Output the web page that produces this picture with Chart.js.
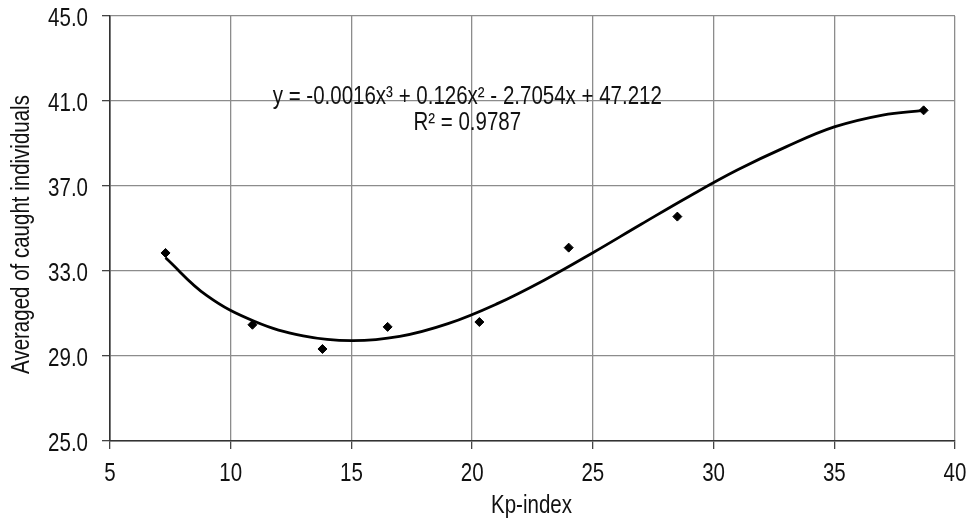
<!DOCTYPE html>
<html>
<head>
<meta charset="utf-8">
<script src="https://cdn.jsdelivr.net/npm/chart.js@4.4.1/dist/chart.umd.min.js"></script>
<style>
  html, body { margin: 0; padding: 0; background: #fff; }
  #wrap { width: 977px; height: 522px; }
</style>
</head>
<body>
<div id="wrap"><canvas id="c" width="977" height="522"></canvas></div>
<script>
// Observed data points (Kp-index, averaged caught individuals)
const kpValues = [7.3, 10.9, 13.8, 16.5, 20.3, 24.0, 28.5, 38.7];
const caughtValues = [33.85, 30.47, 29.33, 30.37, 30.6, 34.1, 35.56, 40.56];

// Trendline
const trendX = [7.3, 9, 11, 13, 15, 17, 19, 21, 23, 25, 27, 29, 31, 33, 35, 37, 38.7];
const trendY = [33.62, 31.85, 30.62, 29.95, 29.72, 29.92, 30.52, 31.44, 32.58, 33.86, 35.2, 36.52, 37.76, 38.84, 39.78, 40.34, 40.56];

// Axis settings and labels
const xTicks = [5, 10, 15, 20, 25, 30, 35, 40];
const yTicks = [25, 29, 33, 37, 41, 45];
const xTitle = 'Kp-index';
const yTitle = 'Averaged of caught individuals';
const equationText = 'y = -0.0016x\u00B3 + 0.126x\u00B2 - 2.7054x + 47.212';
const r2Text = 'R\u00B2 = 0.9787';

const FONT = "'Liberation Sans', Arial, sans-serif";
const FONT_SIZE = 25;
const NARROW = 0.82; // condensed look of the original typeface

function narrowText(ctx, text, x, y, align, rotate) {
  ctx.save();
  ctx.translate(x, y);
  if (rotate) ctx.rotate(rotate);
  ctx.scale(NARROW, 1);
  ctx.textAlign = align;
  ctx.textBaseline = 'alphabetic';
  ctx.fillText(text, 0, 0);
  ctx.restore();
}

const textPlugin = {
  id: 'texts',
  afterDraw(chart) {
    const { ctx, scales, chartArea } = chart;
    const xs = scales.x, ys = scales.y;
    ctx.save();
    ctx.fillStyle = '#111';
    ctx.font = FONT_SIZE + 'px ' + FONT;
    // y tick labels
    yTicks.forEach(v => {
      narrowText(ctx, v.toFixed(1), chartArea.left - 22, ys.getPixelForValue(v) + 10, 'right');
    });
    // x tick labels
    xTicks.forEach(v => {
      narrowText(ctx, String(v), xs.getPixelForValue(v), chartArea.bottom + 39.5, 'center');
    });
    // axis titles
    narrowText(ctx, xTitle, (chartArea.left + chartArea.right) / 2 - 1, chartArea.bottom + 72, 'center');
    narrowText(ctx, yTitle, 29, (chartArea.top + chartArea.bottom) / 2 + 6, 'center', -Math.PI / 2);
    // trendline equation
    const cx = xs.getPixelForValue(19.8);
    narrowText(ctx, equationText, cx, ys.getPixelForValue(40.85), 'center');
    narrowText(ctx, r2Text, cx, ys.getPixelForValue(39.62), 'center');
    ctx.restore();
  }
};

new Chart(document.getElementById('c'), {
  type: 'scatter',
  data: {
    datasets: [
      {
        type: 'line',
        label: 'Trend',
        data: trendX.map((x, i) => ({ x, y: trendY[i] })),
        borderColor: '#000',
        borderWidth: 2.8,
        pointRadius: 0,
        fill: false,
        tension: 0.4,
        order: 2
      },
      {
        label: 'Observed',
        data: kpValues.map((x, i) => ({ x, y: caughtValues[i] })),
        pointStyle: 'rectRot',
        pointRadius: 4.5,
        backgroundColor: '#000',
        borderColor: '#000',
        borderWidth: 1,
        order: 1
      }
    ]
  },
  options: {
    responsive: false,
    animation: false,
    devicePixelRatio: 1,
    layout: { padding: { top: 16, right: 22, left: 0, bottom: 0 } },
    plugins: {
      legend: { display: false },
      tooltip: { enabled: false }
    },
    scales: {
      x: {
        type: 'linear',
        min: 5,
        max: 40,
        afterBuildTicks: s => { s.ticks = xTicks.map(v => ({ value: v })); },
        afterFit: s => { s.height = 81; },
        ticks: { display: false },
        grid: { color: '#8c8c8c', lineWidth: 1.3, tickLength: 8, tickColor: '#444' },
        border: { color: '#333', width: 1.6 },
        title: { display: false }
      },
      y: {
        type: 'linear',
        min: 25,
        max: 45,
        afterBuildTicks: s => { s.ticks = yTicks.map(v => ({ value: v })); },
        afterFit: s => { s.width = 110; },
        ticks: { display: false },
        grid: { color: '#8c8c8c', lineWidth: 1.3, tickLength: 8, tickColor: '#444' },
        border: { color: '#333', width: 1.6 },
        title: { display: false }
      }
    }
  },
  plugins: [textPlugin]
});
</script>
</body>
</html>
